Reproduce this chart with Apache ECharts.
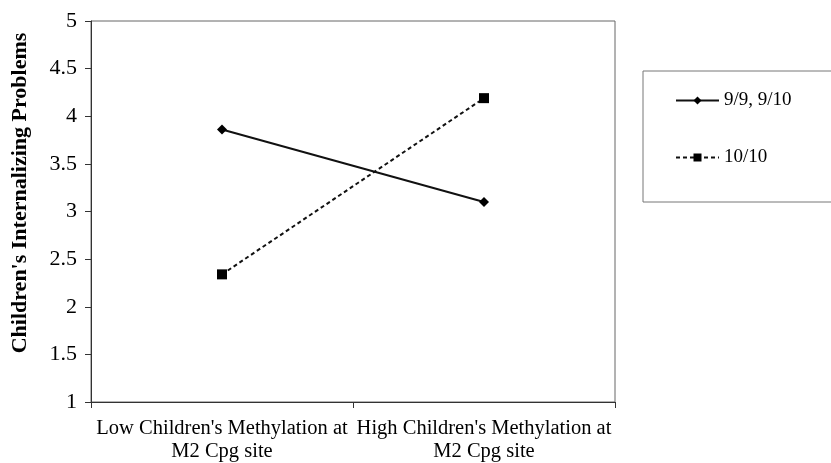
<!DOCTYPE html>
<html>
<head>
<meta charset="utf-8">
<script src="https://cdn.jsdelivr.net/npm/echarts@6/dist/echarts.min.js"></script>
<style>html,body{margin:0;padding:0;background:#fff;}#c{width:831px;height:463px;}</style>
</head>
<body>
<div id="c"></div>
<script>
const categories = ["Low Children's Methylation at\nM2 Cpg site", "High Children's Methylation at\nM2 Cpg site"];
const seriesNames = ["9/9, 9/10", "10/10"];
const series910 = [3.86, 3.10];
const series1010 = [2.34, 4.19];
const yTicks = {min: 1, max: 5, interval: 0.5};
const yAxisTitle = "Children's Internalizing Problems";

const font = "'Liberation Serif', 'DejaVu Serif', serif";
const chart = echarts.init(document.getElementById('c'));
chart.setOption({
  backgroundColor: '#fff',
  animation: false,
  grid: {left: 91, top: 21, right: 216, bottom: 60, show: true, borderColor: '#666', borderWidth: 1, backgroundColor: 'transparent'},
  graphic: [
    {type: 'rect', shape: {x: 643, y: 71, width: 200, height: 131}, style: {fill: 'none', stroke: '#777', lineWidth: 1}, z: 0},
    {type: 'text', x: 20, y: 193, rotation: Math.PI / 2,
     style: {text: yAxisTitle, font: "bold 22px 'Liberation Serif', serif", fill: '#000', align: 'center', verticalAlign: 'middle'}}
  ],
  legend: {
    orient: 'vertical', left: 670, top: 86, itemGap: 38, itemWidth: 43, itemHeight: 10,
    textStyle: {fontFamily: font, fontSize: 19, color: '#000'},
    data: seriesNames
  },
  xAxis: {
    type: 'category', data: categories, boundaryGap: true,
    axisLine: {lineStyle: {color: '#333', width: 1}},
    axisTick: {show: true, inside: false, length: 6, lineStyle: {color: '#333'}},
    axisLabel: {fontFamily: font, fontSize: 20.5, color: '#000', margin: 15, lineHeight: 23, interval: 0},
    splitLine: {show: false}
  },
  yAxis: {
    type: 'value', min: yTicks.min, max: yTicks.max, interval: yTicks.interval,
    axisLine: {show: true, lineStyle: {color: '#333', width: 1}},
    axisTick: {show: true, inside: false, length: 6, lineStyle: {color: '#333'}},
    axisLabel: {fontFamily: font, fontSize: 22, color: '#000', margin: 14},
    splitLine: {show: false}
  },
  series: [
    {name: seriesNames[0], type: 'line', data: series910, symbol: 'diamond', symbolSize: 10,
     lineStyle: {color: '#111', width: 2, type: 'solid'}, itemStyle: {color: '#000'}},
    {name: seriesNames[1], type: 'line', data: series1010, symbol: 'rect', symbolSize: 10,
     lineStyle: {color: '#111', width: 2, type: [4, 3]}, itemStyle: {color: '#000'}}
  ]
});
</script>
</body>
</html>
